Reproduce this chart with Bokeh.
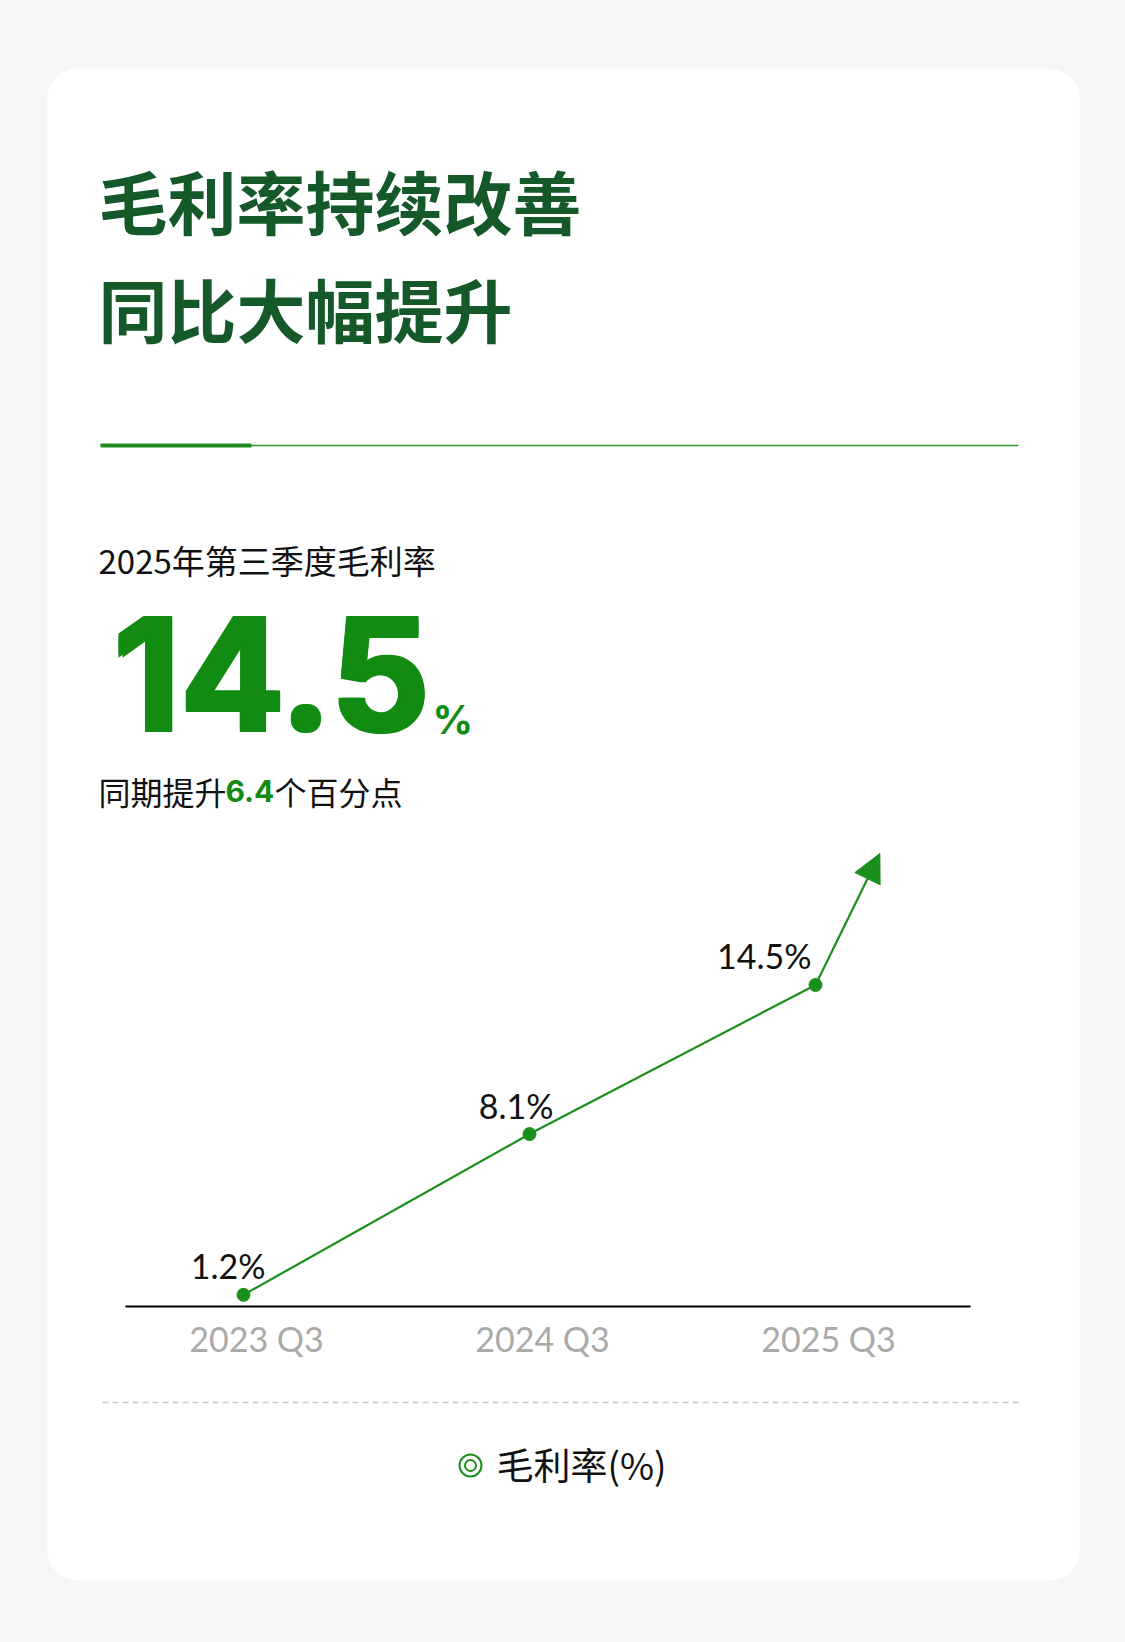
#!/usr/bin/env python3
"""
Gross margin card: headline figure plus a small trend line for Q3 of each year.
"""

from bokeh.plotting import figure
from bokeh.models import Range1d, BoxAnnotation, Arrow, NormalHead
from bokeh.core.properties import value
from bokeh.embed import file_html
from bokeh.resources import INLINE

# Data
quarters = ["2023 Q3", "2024 Q3", "2025 Q3"]
gross_margin = [1.2, 8.1, 14.5]
value_labels = ["1.2%", "8.1%", "14.5%"]
title_lines = ["毛利率持续改善", "同比大幅提升"]
headline_caption = "2025年第三季度毛利率"
headline_value = "14.5"
change_parts = ["同期提升", "6.4", "个百分点"]
series_name = "毛利率(%)"

# Page / layout (Bokeh's page template has no body margin)
W, H = 1125, 1642
BG = "#f6f6f6"
DARK_GREEN = "#15592b"
GREEN = "#118b11"
LINE_GREEN = "#1b8f1b"
CJK = value("Noto Sans CJK SC")
NUM = value("Lato")
# horizontal nudge (px) of each value label's right edge; the last one stays
# clear of the arrow
LABEL_NUDGE = [22, 24, -4]


def Y(py):
    """Convert a top-down pixel position into the figure's y coordinate."""
    return H - py


# chart mapping: index 0 sits at X0_PX, one index step is X_STEP pixels;
# the base line (AXIS_PX) corresponds to AXIS_VAL, K pixels per percentage point
X0_PX, X_STEP = 243, 286
AXIS_PX, AXIS_VAL, K = 1306, 0.7, 23.3

p = figure(
    width=W, height=H,
    x_range=Range1d(0, W), y_range=Range1d(0, H),
    x_axis_location=None, y_axis_location=None,
    output_backend="svg", toolbar_location=None,
    min_border=0, outline_line_color=None,
    background_fill_color=BG, border_fill_color=BG,
)
p.grid.visible = False
p.extra_x_ranges = {"q": Range1d(-X0_PX / X_STEP, (W - X0_PX) / X_STEP)}
p.extra_y_ranges = {"v": Range1d(AXIS_VAL - (H - AXIS_PX) / K, AXIS_VAL + AXIS_PX / K)}

# White card
card = BoxAnnotation(
    left=47, right=1079, top=Y(68), bottom=Y(1580),
    fill_color="white", fill_alpha=1, line_color=None,
    border_radius=30, level="underlay",
)
p.add_layout(card)

# Title
for line, cy in zip(title_lines, [199, 307]):
    p.text(x=[98], y=[Y(cy)], text=[line], text_font=CJK, text_font_style="bold",
           text_font_size="69px", text_color=DARK_GREEN, text_baseline="middle")

# Divider: thin full rule with a thicker accent on the left
p.segment(x0=[100], y0=[Y(445)], x1=[1018], y1=[Y(445)], line_color="#2a9a2a", line_width=1.5)
p.segment(x0=[100], y0=[Y(445)], x1=[251], y1=[Y(445)], line_color="#1f8f1f", line_width=4)

# Headline
p.text(x=[98], y=[Y(559)], text=[headline_caption], text_font=CJK,
       text_font_size="33px", text_color="#111111", text_baseline="middle")
# a few slightly shifted copies give the heavy weight of the original digits
for dx, dy in [(0, 0), (4, 0), (0, -3), (4, -3)]:
    p.text(x=[111], y=[Y(675)], text=[headline_value], text_font=value("Inter"),
           text_font_style="bold", text_font_size="155px", text_color=GREEN,
           text_baseline="alphabetic", x_offset=dx, y_offset=dy)
p.text(x=[432], y=[Y(719)], text=["%"], text_font=value("Inter"),
       text_font_style="bold", text_font_size="40px", text_color=GREEN,
       text_baseline="alphabetic")

p.text(x=[98], y=[Y(790)], text=[change_parts[0]], text_font=CJK,
       text_font_size="32px", text_color="#111111", text_baseline="middle")
p.text(x=[225], y=[Y(790)], text=[change_parts[1]], text_font=value("Inter"),
       text_font_style="bold", text_font_size="30px", text_color=GREEN,
       text_baseline="middle")
p.text(x=[274], y=[Y(790)], text=[change_parts[2]], text_font=CJK,
       text_font_size="32px", text_color="#111111", text_baseline="middle")

# Trend chart
idx = list(range(len(quarters)))
p.segment(x0=[125], y0=[Y(AXIS_PX)], x1=[970], y1=[Y(AXIS_PX)],
          line_color="black", line_width=2)

p.line(x=idx, y=gross_margin, x_range_name="q", y_range_name="v",
       line_color=LINE_GREEN, line_width=2.2)
p.scatter(x=idx, y=gross_margin, x_range_name="q", y_range_name="v",
          size=13, fill_color=LINE_GREEN, line_color=LINE_GREEN)

arrow = Arrow(
    end=NormalHead(size=28, fill_color=LINE_GREEN, line_color=LINE_GREEN),
    x_start=idx[-1], y_start=gross_margin[-1],
    x_end=idx[-1] + 0.225, y_end=gross_margin[-1] + 5.64,
    x_range_name="q", y_range_name="v",
    line_color=LINE_GREEN, line_width=2.2,
)
p.add_layout(arrow)

p.text(x=idx, y=gross_margin, text=value_labels, x_range_name="q", y_range_name="v",
       text_font=NUM, text_font_size="34px", text_color="#111111",
       text_align="right", text_baseline="alphabetic",
       x_offset=LABEL_NUDGE, y_offset=-29)

p.text(x=idx, y=[AXIS_VAL] * len(idx), text=quarters, x_range_name="q", y_range_name="v",
       text_font=NUM, text_font_size="34px", text_color="#aaaaaa",
       text_align="center", text_baseline="alphabetic", x_offset=13, y_offset=32)

# Dashed separator and legend
p.segment(x0=[102], y0=[Y(1402)], x1=[1021], y1=[Y(1402)],
          line_color="#c8c8c8", line_width=1.5, line_dash="6 4")
p.scatter(x=[470], y=[Y(1465)], size=22, fill_color=None,
          line_color=LINE_GREEN, line_width=2)
p.scatter(x=[470], y=[Y(1465)], size=11, fill_color=None,
          line_color=LINE_GREEN, line_width=2)
p.text(x=[496], y=[Y(1463)], text=[series_name], text_font=CJK,
       text_font_size="37px", text_color="#111111", text_baseline="middle")

open("out.html", "w").write(file_html(p, INLINE, "毛利率"))
